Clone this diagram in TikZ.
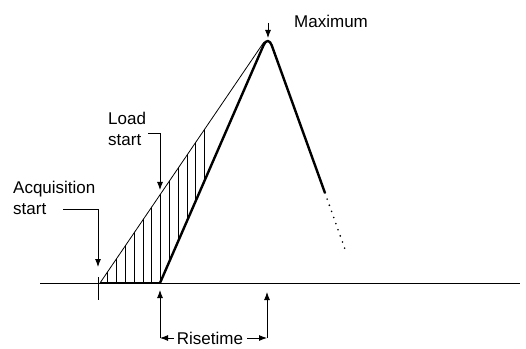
\documentclass[tikz,border=0pt]{standalone}
\usepackage{fontspec}
\setmainfont{Liberation Sans}
\usetikzlibrary{arrows.meta,calc}

\begin{document}
\begin{tikzpicture}[x=1pt,y=1pt,
  lbl/.style={font=\fontsize{17}{20.5}\selectfont,align=left,inner sep=0pt},
  pointer/.style={line width=0.9pt,-{Latex[length=8pt,width=6pt]}},
  curve/.style={line width=2.4pt,line join=round}]
\useasboundingbox (0,0) rectangle (526,348);

\coordinate (O) at (40,65);
\coordinate (E) at (520,65);
\coordinate (A) at (100,65);
\coordinate (L) at (160,65);
\coordinate (P) at (268,313);
\coordinate (D) at (325,155);
\coordinate (F) at (346,96);
\coordinate (T) at (264,306);

\draw[line width=0.8pt] (O) -- (E);
\draw[curve] (A) -- (L);
\draw[curve,rounded corners=11pt] (L) -- (P) -- (D);
\draw[line width=1.8pt,dash pattern=on 0pt off 6.5pt,line cap=round] (D) -- (F);
\draw[line width=0.8pt] (A) -- (T);

\begin{scope}
\clip (A) -- (T) -- (L) -- cycle;
\foreach \k in {0,...,11}
  \draw[line width=0.8pt] (107.7+8.8*\k,60) -- ++(0,200);
\end{scope}

\node[lbl,anchor=north west] (acq) at (13,167) {Acquisition\\start};
\coordinate (acqT) at (63,139);
\coordinate (acqP) at (98,81);
\draw[pointer] (acqT) -| (acqP);
\draw[line width=0.6pt] (98,71) -- (98,48);

\node[lbl,anchor=north west] (load) at (108,236) {Load\\start};
\coordinate (loadT) at (148,215);
\coordinate (loadP) at (160,158);
\draw[pointer] (loadT) -| (loadP);

\node[lbl,anchor=west] (max) at (294,327) {Maximum};
\coordinate (maxT) at (268,325);
\coordinate (maxP) at (268,310);
\draw[pointer] (maxT) -- (maxP);

\node[lbl,anchor=base] (rise) at (210,4) {Risetime};
\coordinate (riseL) at (160,10);
\coordinate (riseR) at (267,10);
\draw[pointer] (riseL) -- ++(0,48);
\draw[pointer] (riseR) -- ++(0,46);
\draw[pointer,shorten <=3pt] (rise.west|-riseL) -- (riseL);
\draw[pointer,shorten <=4pt] (rise.east|-riseR) -- (riseR);

\end{tikzpicture}
\end{document}
